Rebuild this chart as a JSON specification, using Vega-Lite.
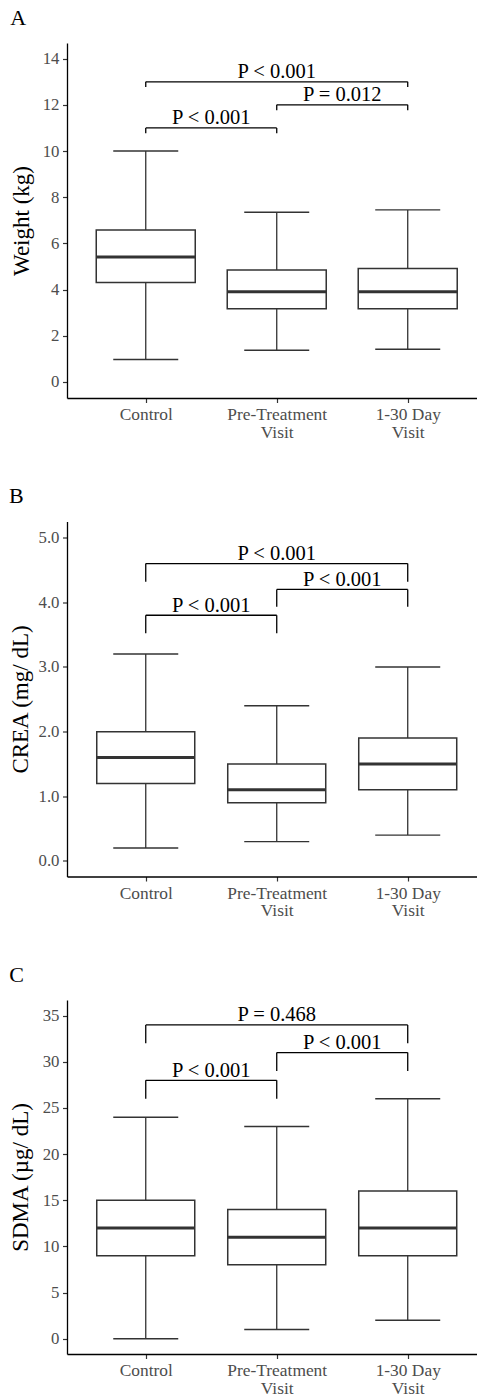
{
  "$schema": "https://vega.github.io/schema/vega-lite/v6.json",
  "background": "white",
  "padding": {"left": 9, "top": 6, "right": 0, "bottom": 0},
  "columns": 1,
  "align": "none",
  "bounds": "full",
  "spacing": 43.5,
  "config": {
    "view": {"stroke": null},
    "font": "Liberation Serif",
    "axis": {
      "grid": false,
      "domainColor": "#000000",
      "domainWidth": 1.3,
      "tickColor": "#333333",
      "tickWidth": 1.2,
      "tickSize": 4.5,
      "labelFont": "Liberation Serif",
      "labelColor": "#4D4D4D",
      "labelFontSize": 16.8,
      "labelPadding": 3.5,
      "titleFont": "Liberation Serif",
      "titleFontSize": 23,
      "titleFontWeight": "normal",
      "titleColor": "#000000"
    },
    "title": {"font": "Liberation Serif", "fontSize": 22, "fontWeight": "normal", "color": "#000000", "anchor": "start", "frame": "bounds", "baseline": "alphabetic", "offset": 13.5}
  },
  "datasets": {
    "weight_box": [
      {"group": "Control", "lower": 0.97, "q1": 4.3, "median": 5.41, "q3": 6.58, "upper": 10.0},
      {"group": "Pre-Treatment Visit", "lower": 1.37, "q1": 3.17, "median": 3.9, "q3": 4.85, "upper": 7.35},
      {"group": "1-30 Day Visit", "lower": 1.41, "q1": 3.17, "median": 3.9, "q3": 4.91, "upper": 7.45}
    ],
    "weight_sig": [
      {"g1": "Control", "g2": "1-30 Day Visit", "y": 13.0, "tip": 12.77, "label": "P < 0.001"},
      {"g1": "Pre-Treatment Visit", "g2": "1-30 Day Visit", "y": 12.0, "tip": 11.77, "label": "P = 0.012"},
      {"g1": "Control", "g2": "Pre-Treatment Visit", "y": 11.0, "tip": 10.77, "label": "P < 0.001"}
    ],
    "crea_box": [
      {"group": "Control", "lower": 0.2, "q1": 1.2, "median": 1.6, "q3": 2.0, "upper": 3.2},
      {"group": "Pre-Treatment Visit", "lower": 0.3, "q1": 0.9, "median": 1.1, "q3": 1.5, "upper": 2.4},
      {"group": "1-30 Day Visit", "lower": 0.4, "q1": 1.1, "median": 1.5, "q3": 1.9, "upper": 3.0}
    ],
    "crea_sig": [
      {"g1": "Control", "g2": "1-30 Day Visit", "y": 4.6, "tip": 4.32, "label": "P < 0.001"},
      {"g1": "Pre-Treatment Visit", "g2": "1-30 Day Visit", "y": 4.2, "tip": 3.93, "label": "P < 0.001"},
      {"g1": "Control", "g2": "Pre-Treatment Visit", "y": 3.8, "tip": 3.52, "label": "P < 0.001"}
    ],
    "sdma_box": [
      {"group": "Control", "lower": 0, "q1": 9, "median": 12, "q3": 15, "upper": 24},
      {"group": "Pre-Treatment Visit", "lower": 1, "q1": 8, "median": 11, "q3": 14, "upper": 23},
      {"group": "1-30 Day Visit", "lower": 2, "q1": 9, "median": 12, "q3": 16, "upper": 26}
    ],
    "sdma_sig": [
      {"g1": "Control", "g2": "1-30 Day Visit", "y": 34, "tip": 32, "label": "P = 0.468"},
      {"g1": "Pre-Treatment Visit", "g2": "1-30 Day Visit", "y": 31, "tip": 29, "label": "P < 0.001"},
      {"g1": "Control", "g2": "Pre-Treatment Visit", "y": 28, "tip": 26, "label": "P < 0.001"}
    ]
  },
  "concat": [
    {
      "title": {"text": "A"},
      "width": 410,
      "height": 355,
      "encoding": {
        "x": {"field": "group", "type": "nominal", "sort": null,
          "scale": {"type": "point", "domain": ["Control", "Pre-Treatment Visit", "1-30 Day Visit"], "padding": 0.565, "align": 0.532},
          "axis": {"title": null, "labelAngle": 0, "labelFontSize": 17.4, "labelLineHeight": 17.5, "labelPadding": 3,
            "labelExpr": "datum.value == 'Control' ? 'Control' : [replace(datum.value, ' Visit', ''), 'Visit']"}}
      },
      "layer": [
        {
          "data": {"name": "weight_box"},
          "mark": {"type": "rule", "color": "#333333", "strokeWidth": 1.3},
          "encoding": {
            "y": {"field": "lower", "type": "quantitative",
              "scale": {"domain": [-0.7, 14.68], "nice": false, "zero": false},
              "axis": {"title": "Weight (kg)", "values": [0, 2, 4, 6, 8, 10, 12, 14], "titlePadding": 9}},
            "y2": {"field": "upper"}
          }
        },
        {
          "data": {"name": "weight_box"},
          "mark": {"type": "bar", "width": 99, "fill": "white", "stroke": "#333333", "strokeWidth": 1.5},
          "encoding": {"y": {"field": "q1", "type": "quantitative"}, "y2": {"field": "q3"}}
        },
        {
          "data": {"name": "weight_box"},
          "mark": {"type": "tick", "size": 99, "thickness": 3, "color": "#333333", "opacity": 1},
          "encoding": {"y": {"field": "median", "type": "quantitative"}}
        },
        {
          "data": {"name": "weight_box"},
          "mark": {"type": "tick", "size": 65, "thickness": 1.4, "color": "#333333", "opacity": 1},
          "encoding": {"y": {"field": "lower", "type": "quantitative"}}
        },
        {
          "data": {"name": "weight_box"},
          "mark": {"type": "tick", "size": 65, "thickness": 1.4, "color": "#333333", "opacity": 1},
          "encoding": {"y": {"field": "upper", "type": "quantitative"}}
        },
        {
          "data": {"name": "weight_sig"},
          "mark": {"type": "rule", "color": "#000000", "strokeWidth": 1.3},
          "encoding": {"x": {"field": "g1", "type": "nominal"}, "x2": {"field": "g2"}, "y": {"field": "y", "type": "quantitative"}}
        },
        {
          "data": {"name": "weight_sig"},
          "mark": {"type": "rule", "color": "#000000", "strokeWidth": 1.3},
          "encoding": {"x": {"field": "g1", "type": "nominal"}, "y": {"field": "y", "type": "quantitative"}, "y2": {"field": "tip"}}
        },
        {
          "data": {"name": "weight_sig"},
          "mark": {"type": "rule", "color": "#000000", "strokeWidth": 1.3},
          "encoding": {"x": {"field": "g2", "type": "nominal"}, "y": {"field": "y", "type": "quantitative"}, "y2": {"field": "tip"}}
        },
        {
          "data": {"name": "weight_sig"},
          "transform": [{"filter": "datum.g1 != 'Control' || datum.g2 != '1-30 Day Visit'"}],
          "mark": {"type": "text", "font": "Liberation Serif", "fontSize": 20.5, "color": "#000000", "align": "center", "baseline": "alphabetic", "dx": 65.5, "dy": -3.5},
          "encoding": {"x": {"field": "g1", "type": "nominal"}, "y": {"field": "y", "type": "quantitative"}, "text": {"field": "label"}}
        },
        {
          "data": {"name": "weight_sig"},
          "transform": [{"filter": "datum.g1 == 'Control' && datum.g2 == '1-30 Day Visit'"}],
          "mark": {"type": "text", "font": "Liberation Serif", "fontSize": 20.5, "color": "#000000", "align": "center", "baseline": "alphabetic", "dx": 131, "dy": -3.5},
          "encoding": {"x": {"field": "g1", "type": "nominal"}, "y": {"field": "y", "type": "quantitative"}, "text": {"field": "label"}}
        }
      ]
    },
    {
      "title": {"text": "B"},
      "width": 410,
      "height": 355,
      "encoding": {
        "x": {"field": "group", "type": "nominal", "sort": null,
          "scale": {"type": "point", "domain": ["Control", "Pre-Treatment Visit", "1-30 Day Visit"], "padding": 0.565, "align": 0.532},
          "axis": {"title": null, "labelAngle": 0, "labelFontSize": 17.4, "labelLineHeight": 17.5, "labelPadding": 3,
            "labelExpr": "datum.value == 'Control' ? 'Control' : [replace(datum.value, ' Visit', ''), 'Visit']"}}
      },
      "layer": [
        {
          "data": {"name": "crea_box"},
          "mark": {"type": "rule", "color": "#333333", "strokeWidth": 1.3},
          "encoding": {
            "y": {"field": "lower", "type": "quantitative",
              "scale": {"domain": [-0.24, 5.25], "nice": false, "zero": false},
              "axis": {"title": "CREA (mg/ dL)", "values": [0, 0.5, 1, 1.5, 2, 2.5, 3, 3.5, 4, 4.5, 5], "format": ".1f", "titlePadding": 6}},
            "y2": {"field": "upper"}
          }
        },
        {
          "data": {"name": "crea_box"},
          "mark": {"type": "bar", "width": 98, "fill": "white", "stroke": "#333333", "strokeWidth": 1.5},
          "encoding": {"y": {"field": "q1", "type": "quantitative"}, "y2": {"field": "q3"}}
        },
        {
          "data": {"name": "crea_box"},
          "mark": {"type": "tick", "size": 98, "thickness": 3, "color": "#333333", "opacity": 1},
          "encoding": {"y": {"field": "median", "type": "quantitative"}}
        },
        {
          "data": {"name": "crea_box"},
          "mark": {"type": "tick", "size": 65, "thickness": 1.4, "color": "#333333", "opacity": 1},
          "encoding": {"y": {"field": "lower", "type": "quantitative"}}
        },
        {
          "data": {"name": "crea_box"},
          "mark": {"type": "tick", "size": 65, "thickness": 1.4, "color": "#333333", "opacity": 1},
          "encoding": {"y": {"field": "upper", "type": "quantitative"}}
        },
        {
          "data": {"name": "crea_sig"},
          "mark": {"type": "rule", "color": "#000000", "strokeWidth": 1.3},
          "encoding": {"x": {"field": "g1", "type": "nominal"}, "x2": {"field": "g2"}, "y": {"field": "y", "type": "quantitative"}}
        },
        {
          "data": {"name": "crea_sig"},
          "mark": {"type": "rule", "color": "#000000", "strokeWidth": 1.3},
          "encoding": {"x": {"field": "g1", "type": "nominal"}, "y": {"field": "y", "type": "quantitative"}, "y2": {"field": "tip"}}
        },
        {
          "data": {"name": "crea_sig"},
          "mark": {"type": "rule", "color": "#000000", "strokeWidth": 1.3},
          "encoding": {"x": {"field": "g2", "type": "nominal"}, "y": {"field": "y", "type": "quantitative"}, "y2": {"field": "tip"}}
        },
        {
          "data": {"name": "crea_sig"},
          "transform": [{"filter": "datum.g1 != 'Control' || datum.g2 != '1-30 Day Visit'"}],
          "mark": {"type": "text", "font": "Liberation Serif", "fontSize": 20.5, "color": "#000000", "align": "center", "baseline": "alphabetic", "dx": 65.5, "dy": -3.5},
          "encoding": {"x": {"field": "g1", "type": "nominal"}, "y": {"field": "y", "type": "quantitative"}, "text": {"field": "label"}}
        },
        {
          "data": {"name": "crea_sig"},
          "transform": [{"filter": "datum.g1 == 'Control' && datum.g2 == '1-30 Day Visit'"}],
          "mark": {"type": "text", "font": "Liberation Serif", "fontSize": 20.5, "color": "#000000", "align": "center", "baseline": "alphabetic", "dx": 131, "dy": -3.5},
          "encoding": {"x": {"field": "g1", "type": "nominal"}, "y": {"field": "y", "type": "quantitative"}, "text": {"field": "label"}}
        }
      ]
    },
    {
      "title": {"text": "C"},
      "width": 410,
      "height": 354,
      "encoding": {
        "x": {"field": "group", "type": "nominal", "sort": null,
          "scale": {"type": "point", "domain": ["Control", "Pre-Treatment Visit", "1-30 Day Visit"], "padding": 0.565, "align": 0.532},
          "axis": {"title": null, "labelAngle": 0, "labelFontSize": 17.4, "labelLineHeight": 17.5, "labelPadding": 3,
            "labelExpr": "datum.value == 'Control' ? 'Control' : [replace(datum.value, ' Visit', ''), 'Visit']"}}
      },
      "layer": [
        {
          "data": {"name": "sdma_box"},
          "mark": {"type": "rule", "color": "#333333", "strokeWidth": 1.3},
          "encoding": {
            "y": {"field": "lower", "type": "quantitative",
              "scale": {"domain": [-1.66, 36.7], "nice": false, "zero": false},
              "axis": {"title": "SDMA (µg/ dL)", "values": [0, 5, 10, 15, 20, 25, 30, 35], "titlePadding": 10}},
            "y2": {"field": "upper"}
          }
        },
        {
          "data": {"name": "sdma_box"},
          "mark": {"type": "bar", "width": 98, "fill": "white", "stroke": "#333333", "strokeWidth": 1.5},
          "encoding": {"y": {"field": "q1", "type": "quantitative"}, "y2": {"field": "q3"}}
        },
        {
          "data": {"name": "sdma_box"},
          "mark": {"type": "tick", "size": 98, "thickness": 3, "color": "#333333", "opacity": 1},
          "encoding": {"y": {"field": "median", "type": "quantitative"}}
        },
        {
          "data": {"name": "sdma_box"},
          "mark": {"type": "tick", "size": 65, "thickness": 1.4, "color": "#333333", "opacity": 1},
          "encoding": {"y": {"field": "lower", "type": "quantitative"}}
        },
        {
          "data": {"name": "sdma_box"},
          "mark": {"type": "tick", "size": 65, "thickness": 1.4, "color": "#333333", "opacity": 1},
          "encoding": {"y": {"field": "upper", "type": "quantitative"}}
        },
        {
          "data": {"name": "sdma_sig"},
          "mark": {"type": "rule", "color": "#000000", "strokeWidth": 1.3},
          "encoding": {"x": {"field": "g1", "type": "nominal"}, "x2": {"field": "g2"}, "y": {"field": "y", "type": "quantitative"}}
        },
        {
          "data": {"name": "sdma_sig"},
          "mark": {"type": "rule", "color": "#000000", "strokeWidth": 1.3},
          "encoding": {"x": {"field": "g1", "type": "nominal"}, "y": {"field": "y", "type": "quantitative"}, "y2": {"field": "tip"}}
        },
        {
          "data": {"name": "sdma_sig"},
          "mark": {"type": "rule", "color": "#000000", "strokeWidth": 1.3},
          "encoding": {"x": {"field": "g2", "type": "nominal"}, "y": {"field": "y", "type": "quantitative"}, "y2": {"field": "tip"}}
        },
        {
          "data": {"name": "sdma_sig"},
          "transform": [{"filter": "datum.g1 != 'Control' || datum.g2 != '1-30 Day Visit'"}],
          "mark": {"type": "text", "font": "Liberation Serif", "fontSize": 20.5, "color": "#000000", "align": "center", "baseline": "alphabetic", "dx": 65.5, "dy": -3.5},
          "encoding": {"x": {"field": "g1", "type": "nominal"}, "y": {"field": "y", "type": "quantitative"}, "text": {"field": "label"}}
        },
        {
          "data": {"name": "sdma_sig"},
          "transform": [{"filter": "datum.g1 == 'Control' && datum.g2 == '1-30 Day Visit'"}],
          "mark": {"type": "text", "font": "Liberation Serif", "fontSize": 20.5, "color": "#000000", "align": "center", "baseline": "alphabetic", "dx": 131, "dy": -3.5},
          "encoding": {"x": {"field": "g1", "type": "nominal"}, "y": {"field": "y", "type": "quantitative"}, "text": {"field": "label"}}
        }
      ]
    }
  ]
}
